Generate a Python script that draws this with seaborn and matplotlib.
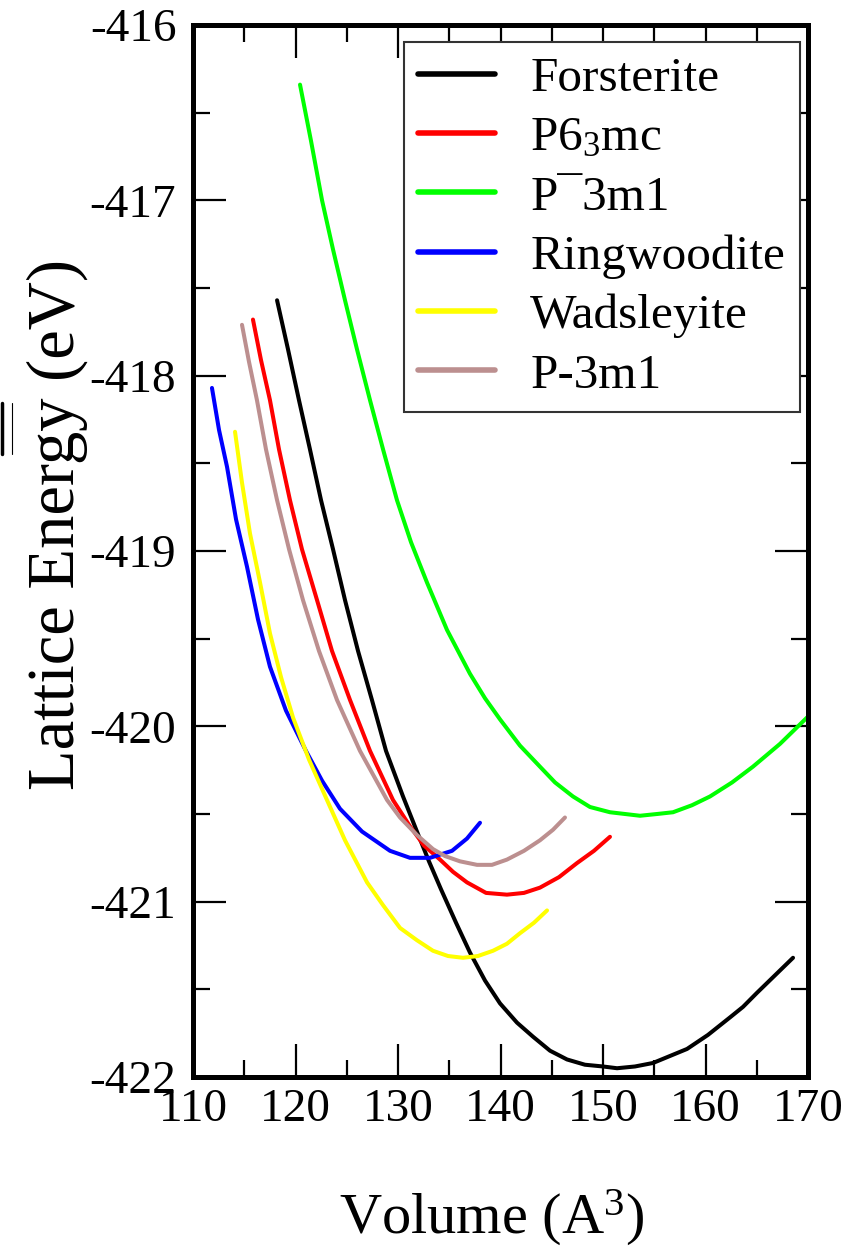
import numpy as np
import pandas as pd
import seaborn as sns
import matplotlib.pyplot as plt
from matplotlib.lines import Line2D
from matplotlib.ticker import MultipleLocator

sns.set_style('ticks')
plt.rcParams['font.family'] = ['Liberation Serif', 'DejaVu Serif']
plt.rcParams['mathtext.fontset'] = 'custom'
plt.rcParams['mathtext.rm'] = 'Liberation Serif'
plt.rcParams['mathtext.it'] = 'Liberation Serif:italic'
plt.rcParams['axes.unicode_minus'] = False
for k in ['text.color', 'axes.labelcolor', 'xtick.color', 'ytick.color']:
    plt.rcParams[k] = 'black'

# volume (A^3) / lattice energy (eV)
forsterite_v = [118.20, 119.27, 120.34, 121.41, 122.49, 123.66, 124.83, 126.10, 127.46,
                128.83, 130.49, 131.85, 133.02, 134.20, 135.66, 137.02, 138.49, 139.95,
                141.61, 143.17, 144.83, 146.49, 148.24, 150.00, 151.37, 153.12, 154.88,
                156.54, 158.20, 160.24, 162.39, 163.66, 165.02, 166.78, 168.54]
forsterite_e = [-417.57, -417.85, -418.14, -418.42, -418.71, -418.99, -419.28, -419.57,
                -419.85, -420.14, -420.40, -420.60, -420.77, -420.93, -421.12, -421.29,
                -421.45, -421.58, -421.69, -421.77, -421.85, -421.90, -421.93, -421.94,
                -421.95, -421.94, -421.92, -421.88, -421.84, -421.76, -421.66, -421.60,
                -421.52, -421.42, -421.32]

p63mc_v = [115.85, 116.63, 117.51, 118.39, 119.46, 120.63, 122.10, 123.56, 125.32, 127.27,
           129.51, 131.17, 132.54, 134.10, 135.37, 136.73, 138.59, 140.63, 142.29, 143.85,
           145.71, 147.46, 149.12, 150.68]
p63mc_e = [-417.68, -417.91, -418.14, -418.42, -418.71, -418.99, -419.28, -419.57, -419.85,
           -420.14, -420.42, -420.57, -420.68, -420.76, -420.83, -420.89, -420.95, -420.96,
           -420.95, -420.92, -420.86, -420.78, -420.71, -420.63]

p3m1bar_v = [120.44, 121.51, 122.59, 123.66, 124.83, 126.00, 127.27, 128.54, 129.90, 131.27,
             132.83, 134.78, 137.02, 138.49, 139.95, 141.90, 143.85, 145.32, 147.07, 148.73,
             150.68, 152.15, 153.61, 155.27, 156.83, 158.68, 160.44, 162.59, 164.63, 167.27,
             169.90, 171.17]
p3m1bar_e = [-416.34, -416.66, -417.00, -417.28, -417.57, -417.85, -418.14, -418.42, -418.71,
             -418.95, -419.18, -419.45, -419.70, -419.84, -419.96, -420.11, -420.23, -420.32,
             -420.40, -420.46, -420.49, -420.50, -420.51, -420.50, -420.49, -420.45, -420.40,
             -420.32, -420.23, -420.10, -419.95, -419.88]

ringwoodite_v = [111.85, 112.54, 113.32, 114.20, 115.27, 116.34, 117.51, 119.07, 121.02,
                 122.59, 124.34, 126.49, 129.22, 131.17, 133.12, 135.27, 136.73, 138.00]
ringwoodite_e = [-418.07, -418.31, -418.52, -418.82, -419.09, -419.39, -419.66, -419.91,
                 -420.14, -420.31, -420.47, -420.60, -420.71, -420.75, -420.75, -420.71,
                 -420.64, -420.55]

wadsleyite_v = [114.10, 114.78, 115.56, 116.54, 117.51, 118.59, 119.76, 121.32, 123.07,
                124.83, 126.98, 128.54, 130.20, 131.85, 133.41, 134.88, 136.34, 137.80,
                139.27, 140.63, 141.90, 143.27, 144.54]
wadsleyite_e = [-418.32, -418.61, -418.90, -419.18, -419.47, -419.72, -419.95, -420.19,
                -420.42, -420.65, -420.89, -421.02, -421.15, -421.22, -421.28, -421.31,
                -421.32, -421.31, -421.28, -421.24, -421.18, -421.12, -421.05]

p3m1_v = [114.78, 115.46, 116.24, 117.12, 118.20, 119.37, 120.73, 122.29, 124.05, 126.29,
          128.93, 130.20, 131.85, 133.41, 134.59, 136.05, 137.71, 139.17, 140.63, 142.29,
          143.85, 145.12, 146.29]
p3m1_e = [-417.71, -417.92, -418.14, -418.42, -418.71, -418.99, -419.28, -419.57, -419.85,
          -420.14, -420.42, -420.52, -420.62, -420.70, -420.74, -420.77, -420.79, -420.79,
          -420.76, -420.71, -420.65, -420.59, -420.52]

series = [
    ('Forsterite', forsterite_v, forsterite_e, '#000000'),
    (r'P6$_3$mc', p63mc_v, p63mc_e, '#ff0000'),
    ('P\u00af3m1', p3m1bar_v, p3m1bar_e, '#00ff00'),
    ('Ringwoodite', ringwoodite_v, ringwoodite_e, '#0000ff'),
    ('Wadsleyite', wadsleyite_v, wadsleyite_e, '#ffff00'),
    ('P-3m1', p3m1_v, p3m1_e, '#bc8f8f'),
]

fig = plt.figure(figsize=(8.63, 12.55), dpi=100)
ax = fig.add_axes([193/863, 1 - 1077/1255, 615/863, 1052/1255])

for name, v, e, c in series:
    df = pd.DataFrame({'V': v, 'E': e})
    sns.lineplot(data=df, x='V', y='E', color=c, linewidth=2.9, label=name,
                 sort=False, ax=ax)

ax.set_xlim(110, 170)
ax.set_ylim(-422, -416)
ax.xaxis.set_major_locator(MultipleLocator(10))
ax.xaxis.set_minor_locator(MultipleLocator(5))
ax.yaxis.set_major_locator(MultipleLocator(1))
ax.yaxis.set_minor_locator(MultipleLocator(0.5))
ax.tick_params(which='both', direction='in', top=True, right=True, width=1.6,
               color='k', labelsize=34)
ax.tick_params(which='major', length=24)
ax.tick_params(which='minor', length=12)
ax.tick_params(axis='x', pad=8)
ax.tick_params(axis='y', pad=12)
for s in ax.spines.values():
    s.set_linewidth(3.6)
    s.set_color('k')

ax.set_xlabel(r'Volume (A$^3$)', fontsize=42)
ax.set_ylabel('Lattice Energy (eV)', fontsize=48)
ax.xaxis.set_label_coords(0.486, -0.105)
ax.yaxis.set_label_coords(-0.17, 0.525)

leg = ax.legend(loc='upper right', bbox_to_anchor=(0.987, 0.984), borderaxespad=0,
                fontsize=35.5, frameon=True, fancybox=False, framealpha=1,
                handlelength=1.55, handletextpad=0.72, labelspacing=0.3, borderpad=0.3)
leg.get_frame().set_edgecolor('#333333')
leg.get_frame().set_linewidth(1.5)
leg.set_zorder(5)
for h in leg.get_lines():
    h.set_linewidth(4)

# stray marks at the left edge of the source image
fig.add_artist(Line2D([0.002, 0.002], [1 - 403/1255, 1 - 454/1255],
                      transform=fig.transFigure, color='k', linewidth=2.5))
fig.add_artist(Line2D([12/863, 12/863], [1 - 403/1255, 1 - 454/1255],
                      transform=fig.transFigure, color='k', linewidth=0.8))

fig.savefig('out.png', dpi=100)
